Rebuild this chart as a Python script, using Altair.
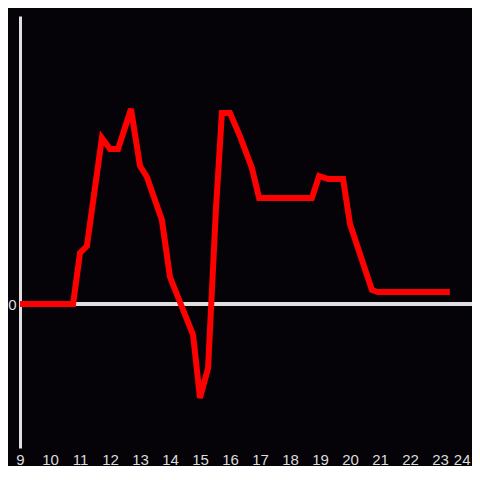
import altair as alt
import pandas as pd

hours = [9.0, 10.77, 11.0, 11.23, 11.73, 12.0, 12.27, 12.7, 13.0, 13.23, 13.73, 14.0,
         14.77, 15.0, 15.27, 15.53, 15.73, 16.0, 16.33, 16.73, 16.97, 18.73, 18.97,
         19.27, 19.77, 20.0, 20.73, 20.93, 23.33]
values = [0, 0, 51, 58, 166, 155, 155, 195, 138, 127, 84, 27,
          -31, -94, -64, 94, 191, 191, 168, 136, 106, 106, 128,
          125, 125, 80, 14, 12, 12]
x_ticks = list(range(9, 25))

df = pd.DataFrame({"hour": hours, "value": values})

x_scale = alt.Scale(domain=[9, 24], nice=False, zero=False)
y_scale = alt.Scale(domain=[-144, 288], nice=False, zero=False)

zero = alt.Chart(df).mark_rule(color="#e0e0e0", strokeWidth=3, clip=False).encode(
    y=alt.datum(0, scale=y_scale),
    x=alt.value(0),
    x2=alt.value(460),
)

line = alt.Chart(df).mark_line(color="#ff0000", strokeWidth=6).encode(
    x=alt.X("hour:Q", scale=x_scale,
            axis=alt.Axis(values=x_ticks, title=None, domain=False, ticks=False,
                          grid=False, labelPadding=4, labelFontSize=15,
                          labelColor="#dddddd", labelFont="Liberation Sans",
                          labelAlign=alt.ExprRef(expr="datum.value == 24 ? 'right' : 'center'"),
                          labelFlush=False, labelOverlap=False)),
    y=alt.Y("value:Q", scale=y_scale,
            axis=alt.Axis(values=[0], title=None, domain=True, domainColor="#e0e0e0",
                          domainWidth=3, ticks=False, grid=False, labelPadding=4,
                          labelFontSize=15, labelColor="#dddddd",
                          labelFont="Liberation Sans")),
)

chart = (zero + line).properties(
    width=450, height=432,
    background="#050308",
    autosize=alt.AutoSizeParams(type="none"),
    padding={"left": 12, "top": 8, "right": 2, "bottom": 18},
).configure_view(stroke=None)

chart.save("out.html", embed_options={"renderer": "svg", "actions": False})
